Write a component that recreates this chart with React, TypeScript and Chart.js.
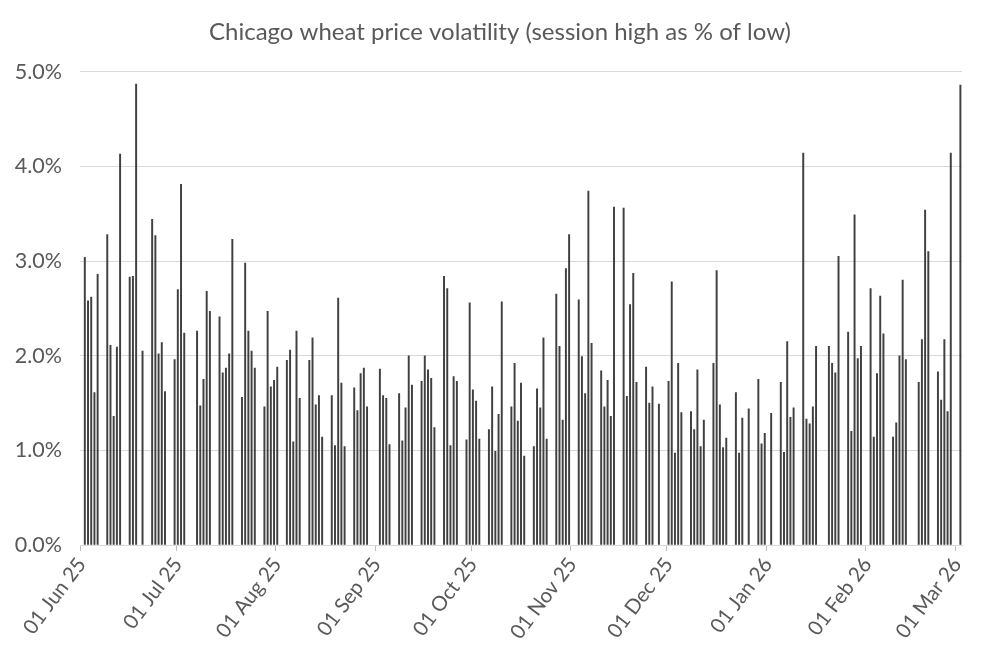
import { useEffect, useRef } from "react";
import { Chart, registerables } from "chart.js";

Chart.register(...registerables);

const chartTitle = "Chicago wheat price volatility (session high as % of low)";
const firstDay = "2025-06-01";
const lastDay = "2026-03-02";
const monthNames = ["Jan", "Feb", "Mar", "Apr", "May", "Jun", "Jul", "Aug", "Sep", "Oct", "Nov", "Dec"];
const yTicks = [0, 1, 2, 3, 4, 5];

const tradingDates = [
  "2025-06-02", "2025-06-03", "2025-06-04", "2025-06-05", "2025-06-06",
  "2025-06-09", "2025-06-10", "2025-06-11", "2025-06-12", "2025-06-13",
  "2025-06-16", "2025-06-17", "2025-06-18", "2025-06-20",
  "2025-06-23", "2025-06-24", "2025-06-25", "2025-06-26", "2025-06-27",
  "2025-06-30", "2025-07-01", "2025-07-02", "2025-07-03",
  "2025-07-07", "2025-07-08", "2025-07-09", "2025-07-10", "2025-07-11",
  "2025-07-14", "2025-07-15", "2025-07-16", "2025-07-17", "2025-07-18",
  "2025-07-21", "2025-07-22", "2025-07-23", "2025-07-24", "2025-07-25",
  "2025-07-28", "2025-07-29", "2025-07-30", "2025-07-31", "2025-08-01",
  "2025-08-04", "2025-08-05", "2025-08-06", "2025-08-07", "2025-08-08",
  "2025-08-11", "2025-08-12", "2025-08-13", "2025-08-14", "2025-08-15",
  "2025-08-18", "2025-08-19", "2025-08-20", "2025-08-21", "2025-08-22",
  "2025-08-25", "2025-08-26", "2025-08-27", "2025-08-28", "2025-08-29",
  "2025-09-02", "2025-09-03", "2025-09-04", "2025-09-05",
  "2025-09-08", "2025-09-09", "2025-09-10", "2025-09-11", "2025-09-12",
  "2025-09-15", "2025-09-16", "2025-09-17", "2025-09-18", "2025-09-19",
  "2025-09-22", "2025-09-23", "2025-09-24", "2025-09-25", "2025-09-26",
  "2025-09-29", "2025-09-30", "2025-10-01", "2025-10-02", "2025-10-03",
  "2025-10-06", "2025-10-07", "2025-10-08", "2025-10-09", "2025-10-10",
  "2025-10-13", "2025-10-14", "2025-10-15", "2025-10-16", "2025-10-17",
  "2025-10-20", "2025-10-21", "2025-10-22", "2025-10-23", "2025-10-24",
  "2025-10-27", "2025-10-28", "2025-10-29", "2025-10-30", "2025-10-31",
  "2025-11-03", "2025-11-04", "2025-11-05", "2025-11-06", "2025-11-07",
  "2025-11-10", "2025-11-11", "2025-11-12", "2025-11-13", "2025-11-14",
  "2025-11-17", "2025-11-18", "2025-11-19", "2025-11-20", "2025-11-21",
  "2025-11-24", "2025-11-25", "2025-11-26", "2025-11-28",
  "2025-12-01", "2025-12-02", "2025-12-03", "2025-12-04", "2025-12-05",
  "2025-12-08", "2025-12-09", "2025-12-10", "2025-12-11", "2025-12-12",
  "2025-12-15", "2025-12-16", "2025-12-17", "2025-12-18", "2025-12-19",
  "2025-12-22", "2025-12-23", "2025-12-24", "2025-12-26",
  "2025-12-29", "2025-12-30", "2025-12-31", "2026-01-02",
  "2026-01-05", "2026-01-06", "2026-01-07", "2026-01-08", "2026-01-09",
  "2026-01-12", "2026-01-13", "2026-01-14", "2026-01-15", "2026-01-16",
  "2026-01-20", "2026-01-21", "2026-01-22", "2026-01-23",
  "2026-01-26", "2026-01-27", "2026-01-28", "2026-01-29", "2026-01-30",
  "2026-02-02", "2026-02-03", "2026-02-04", "2026-02-05", "2026-02-06",
  "2026-02-09", "2026-02-10", "2026-02-11", "2026-02-12", "2026-02-13",
  "2026-02-17", "2026-02-18", "2026-02-19", "2026-02-20",
  "2026-02-23", "2026-02-24", "2026-02-25", "2026-02-26", "2026-02-27",
  "2026-03-02",
];

const highAsPctOfLow = [
  3.04, 2.58, 2.62, 1.61, 2.86,
  3.28, 2.11, 1.36, 2.09, 4.13,
  2.83, 2.84, 4.87, 2.05,
  3.44, 3.27, 2.02, 2.14, 1.62,
  1.96, 2.70, 3.81, 2.24,
  2.26, 1.47, 1.75, 2.68, 2.47,
  2.41, 1.82, 1.87, 2.02, 3.23,
  1.56, 2.98, 2.26, 2.05, 1.87,
  1.46, 2.47, 1.67, 1.74, 1.88,
  1.95, 2.06, 1.09, 2.26, 1.55,
  1.95, 2.19, 1.48, 1.58, 1.14,
  1.58, 1.05, 2.61, 1.71, 1.04,
  1.66, 1.42, 1.81, 1.87, 1.46,
  1.86, 1.58, 1.55, 1.06,
  1.60, 1.10, 1.45, 2.00, 1.69,
  1.73, 2.00, 1.85, 1.76, 1.24,
  2.84, 2.71, 1.05, 1.78, 1.73,
  1.11, 2.56, 1.64, 1.52, 1.12,
  1.22, 1.67, 0.99, 1.38, 2.57,
  1.46, 1.92, 1.31, 1.71, 0.94,
  1.04, 1.65, 1.45, 2.19, 1.12,
  2.65, 2.10, 1.32, 2.92, 3.28,
  2.59, 1.99, 1.60, 3.74, 2.13,
  1.84, 1.46, 1.74, 1.36, 3.57,
  3.56, 1.57, 2.54, 2.87, 1.72,
  1.88, 1.50, 1.67, 1.49,
  1.73, 2.78, 0.97, 1.92, 1.40,
  1.41, 1.22, 1.85, 1.04, 1.32,
  1.92, 2.90, 1.48, 1.03, 1.13,
  1.61, 0.97, 1.34, 1.44,
  1.75, 1.07, 1.18, 1.39,
  1.72, 0.98, 2.15, 1.35, 1.45,
  4.14, 1.33, 1.28, 1.46, 2.10,
  2.10, 1.92, 1.82, 3.05,
  2.25, 1.20, 3.49, 1.97, 2.10,
  2.71, 1.14, 1.81, 2.63, 2.23,
  1.14, 1.29, 2.00, 2.80, 1.96,
  1.72, 2.17, 3.54, 3.10,
  1.83, 1.53, 2.17, 1.41, 4.14,
  4.86,
];

const FONT = "Lato, 'Open Sans', sans-serif";
const TEXT = "#595959";
const GRID = "#d9d9d9";

function buildCalendar(): string[] {
  const out: string[] = [];
  const d = new Date(firstDay + "T00:00:00Z");
  const end = new Date(lastDay + "T00:00:00Z");
  while (d.getTime() <= end.getTime()) {
    out.push(d.toISOString().slice(0, 10));
    d.setUTCDate(d.getUTCDate() + 1);
  }
  return out;
}

function formatLabel(key: string): string {
  const [y, m, day] = key.split("-");
  return `${day} ${monthNames[Number(m) - 1]} ${y.slice(2)}`;
}

export default function App() {
  const canvasRef = useRef<HTMLCanvasElement | null>(null);

  useEffect(() => {
    if (!canvasRef.current) return;
    const calendar = buildCalendar();
    const lookup = new Map<string, number>();
    tradingDates.forEach((d, i) => lookup.set(d, highAsPctOfLow[i]));
    const values = calendar.map((d) => (lookup.has(d) ? (lookup.get(d) as number) : null));
    const isMonthStart = calendar.map((d) => d.endsWith("-01"));

    const chart = new Chart(canvasRef.current, {
      type: "bar",
      data: {
        labels: calendar,
        datasets: [
          {
            data: values,
            yAxisID: "y",
            backgroundColor: "#404040",
            borderWidth: 0,
            barThickness: 1.3,
          },
        ],
      },
      options: {
        responsive: false,
        animation: false,
        devicePixelRatio: 1,
        layout: { padding: 0 },
        plugins: {
          legend: { display: false },
          tooltip: { enabled: false },
          title: {
            display: true,
            text: chartTitle,
            color: TEXT,
            font: { family: FONT, size: 24, weight: "normal" },
            padding: { top: 18, bottom: 25 },
          },
        },
        scales: {
          x: {
            type: "category",
            offset: true,
            grid: {
              offset: true,
              drawOnChartArea: false,
              drawTicks: true,
              tickLength: 6,
              tickColor: (ctx: any) =>
                ctx.index !== undefined && isMonthStart[ctx.index] ? "#bfbfbf" : "rgba(0,0,0,0)",
            },
            border: { display: true, color: GRID, width: 1 },
            ticks: {
              autoSkip: false,
              minRotation: 53,
              maxRotation: 53,
              padding: 2,
              color: TEXT,
              font: { family: FONT, size: 20.5 },
              callback: (_v: any, index: number) =>
                isMonthStart[index] ? formatLabel(calendar[index]) : "",
            },
            afterFit: (s: any) => {
              s.height = 113;
            },
          },
          y: {
            min: yTicks[0],
            max: yTicks[yTicks.length - 1],
            afterBuildTicks: (s: any) => {
              s.ticks = yTicks.map((v) => ({ value: v }));
            },
            grid: { color: GRID, drawTicks: false },
            border: { display: false },
            ticks: {
              color: TEXT,
              padding: 18,
              font: { family: FONT, size: 21.5 },
              callback: (v: any) => `${Number(v).toFixed(1)}%`,
            },
            afterFit: (s: any) => {
              s.width = 80;
            },
          },
          yRightSpace: {
            type: "linear",
            position: "right",
            display: true,
            grid: { display: false, drawTicks: false },
            border: { display: false },
            ticks: { display: false },
            afterFit: (s: any) => {
              s.width = 38;
            },
          },
        },
      },
    });
    return () => chart.destroy();
  }, []);

  return (
    <div style={{ position: "fixed", left: 0, top: 0, width: 1000, height: 658, background: "#fff" }}>
      <canvas ref={canvasRef} width={1000} height={658} />
    </div>
  );
}
